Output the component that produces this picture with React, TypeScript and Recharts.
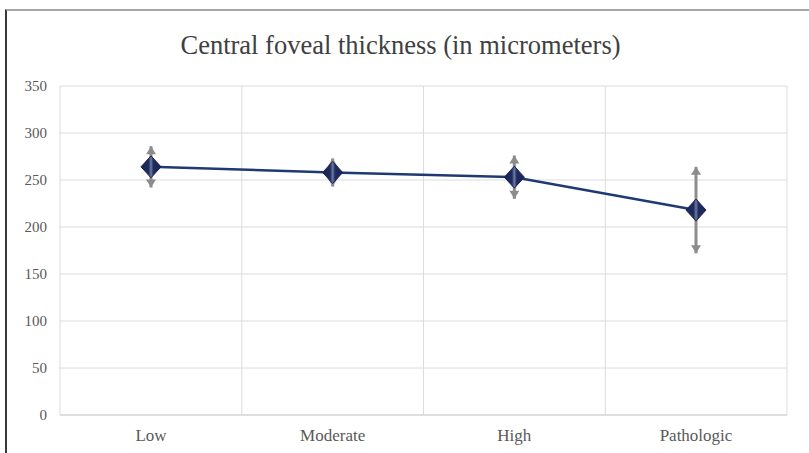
import { CartesianGrid, ErrorBar, Line, LineChart, XAxis, YAxis } from "recharts";

const categories = ["Low", "Moderate", "High", "Pathologic"];
const means = [264, 258, 253, 218];
const errors = [22, 15, 23, 46];
const yTicks = [0, 50, 100, 150, 200, 250, 300, 350];

const W = 809;
const H = 453;
const FONT = "'Liberation Serif', 'Times New Roman', serif";

const chartData = categories.map((name, i) => ({
  name,
  mean: means[i],
  err: errors[i],
  upper: means[i] + errors[i],
  lower: means[i] - errors[i],
}));

function Diamond(props: any) {
  const { cx, cy, index } = props;
  if (cx == null || cy == null) return null;
  return (
    <polygon
      key={`d-${index}`}
      points={`${cx},${cy - 11} ${cx + 10},${cy} ${cx},${cy + 11} ${cx - 10},${cy}`}
      fill="url(#diamondGrad)"
      stroke="#1a2550"
      strokeWidth={1}
    />
  );
}

function ArrowUp(props: any) {
  const { cx, cy, index } = props;
  if (cx == null || cy == null) return null;
  return (
    <polygon
      key={`u-${index}`}
      points={`${cx},${cy} ${cx - 5},${cy + 8} ${cx + 5},${cy + 8}`}
      fill="#8c8c8c"
    />
  );
}

function ArrowDown(props: any) {
  const { cx, cy, index } = props;
  if (cx == null || cy == null) return null;
  return (
    <polygon
      key={`l-${index}`}
      points={`${cx},${cy} ${cx - 5},${cy - 8} ${cx + 5},${cy - 8}`}
      fill="#8c8c8c"
    />
  );
}

export default function App() {
  return (
    <div style={{ position: "absolute", left: 0, top: 0, width: W, height: H, background: "#fff" }}>
      <div
        style={{
          position: "absolute",
          left: 5,
          top: 9,
          width: W - 5,
          height: H - 9,
          borderLeft: "2px solid #3a3a3a",
          borderTop: "2px solid #a6a6a6",
          boxSizing: "border-box",
        }}
      />
      <div
        style={{
          position: "absolute",
          left: 0,
          width: W - 8,
          top: 30,
          textAlign: "center",
          fontFamily: FONT,
          fontSize: 26.5,
          color: "#404040",
        }}
      >
        Central foveal thickness (in micrometers)
      </div>
      <div style={{ position: "absolute", left: 0, top: 0 }}>
        <LineChart width={W} height={H} data={chartData} margin={{ top: 86, right: 22, bottom: 8, left: 0 }}>
          <defs>
            <linearGradient id="diamondGrad" x1="0" y1="0" x2="1" y2="0">
              <stop offset="0%" stopColor="#18234f" />
              <stop offset="38%" stopColor="#1f2c62" />
              <stop offset="50%" stopColor="#6d7a9e" />
              <stop offset="62%" stopColor="#1f2c62" />
              <stop offset="100%" stopColor="#18234f" />
            </linearGradient>
          </defs>
          <CartesianGrid
            stroke="#dcdcdc"
            verticalCoordinatesGenerator={({ offset }: any) =>
              [0, 1, 2, 3, 4].map((i) => offset.left + (i * offset.width) / categories.length)
            }
          />
          <XAxis
            dataKey="name"
            padding={{ left: 91, right: 91 }}
            axisLine={{ stroke: "#d0d0d0" }}
            tickLine={false}
            tickSize={0}
            tickMargin={14}
            tick={{ fill: "#595959", fontSize: 17, fontFamily: FONT }}
          />
          <YAxis
            domain={[0, 350]}
            ticks={yTicks}
            width={60}
            axisLine={false}
            tickLine={false}
            tickSize={0}
            tickMargin={13}
            tick={{ fill: "#595959", fontSize: 15, fontFamily: FONT }}
          />
          <Line
            dataKey="mean"
            stroke="none"
            dot={false}
            activeDot={false}
            isAnimationActive={false}
          >
            <ErrorBar dataKey="err" direction="y" width={0} stroke="#8c8c8c" strokeWidth={3} isAnimationActive={false} />
          </Line>
          <Line dataKey="upper" stroke="none" dot={ArrowUp} activeDot={false} isAnimationActive={false} />
          <Line dataKey="lower" stroke="none" dot={ArrowDown} activeDot={false} isAnimationActive={false} />
          <Line
            dataKey="mean"
            stroke="#1f3a72"
            strokeWidth={2.5}
            dot={Diamond}
            activeDot={false}
            isAnimationActive={false}
          />
        </LineChart>
      </div>
    </div>
  );
}
